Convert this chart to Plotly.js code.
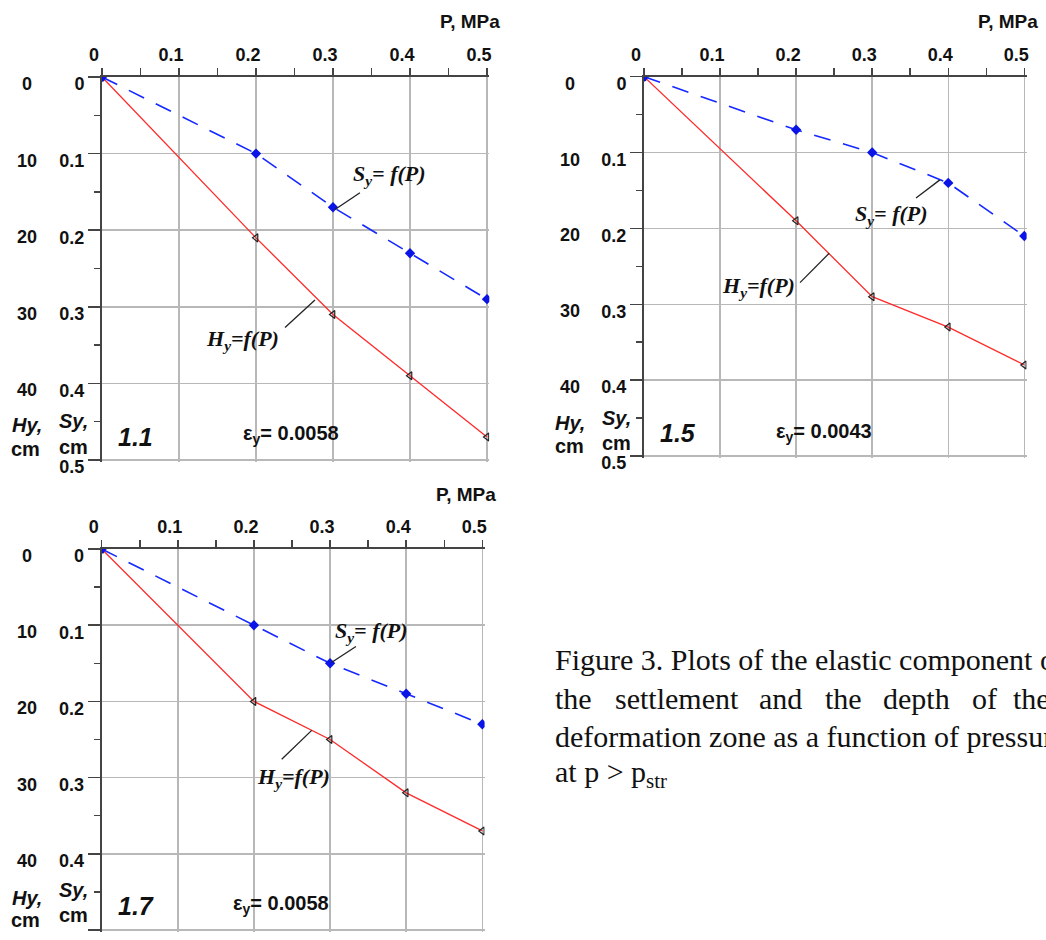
<!DOCTYPE html>
<html>
<head>
<meta charset="utf-8">
<script src="https://cdn.plot.ly/plotly-3.0.1.min.js"></script>
<style>
  html, body { margin: 0; padding: 0; background: #fff; }
  #chart { width: 1046px; height: 940px; }
</style>
</head>
<body>
<div id="chart"></div>
<script>
// pressure steps, MPa
const pressure = [0, 0.2, 0.3, 0.4, 0.5];

// settlement Sy (blue, dashed) and deformation depth Hy (red)
const sy11 = [0, 0.10, 0.17, 0.23, 0.29];
const hy11 = [0, 0.21, 0.31, 0.39, 0.47];
const sy15 = [0, 0.07, 0.10, 0.14, 0.21];
const hy15 = [0, 0.19, 0.29, 0.33, 0.38];
const sy17 = [0, 0.10, 0.15, 0.19, 0.23];
const hy17 = [0, 0.20, 0.25, 0.32, 0.37];

const panelNames = ['1.1', '1.5', '1.7'];
const strainLabels = ['0.0058', '0.0043', '0.0058'];
const hyTicks = [0, 10, 20, 30, 40];   // Hy axis, cm (10 cm <-> 0.1 on Sy axis)

const W = 1046, H = 940;
const sans = 'Liberation Sans, Arial, sans-serif';
const serif = 'Liberation Serif, Times New Roman, serif';

// pixel boxes of the three plot areas: [left, right, top, bottom] (range 0..0.503)
const boxes = [
    [102, 489.3, 77, 462.3],
    [644, 1026.6, 76.7, 458.3],
    [101.7, 484.6, 549, 932.3],
];

function xAxis(box, anchor) {
    return {
        domain: [box[0] / W, box[1] / W],
        anchor: anchor,
        side: 'top',
        range: [0, 0.503],
        tick0: 0, dtick: 0.1,
        ticks: 'outside', ticklen: 7, tickwidth: 1.5, tickcolor: '#444',
        minor: { dtick: 0.05, ticks: 'outside', ticklen: 7, tickwidth: 1.5, tickcolor: '#444', showgrid: false },
        showline: true, linecolor: '#444', linewidth: 2,
        showgrid: true, gridcolor: '#b8b8b8', gridwidth: 1.5,
        zeroline: false,
        ticklabelshift: -8,
        tickfont: { family: sans, size: 18, weight: 'bold', color: '#111' },
        fixedrange: true,
    };
}

function yAxis(box, anchor) {
    return {
        domain: [1 - box[3] / H, 1 - box[2] / H],
        anchor: anchor,
        range: [0.503, 0],
        tick0: 0, dtick: 0.1,
        ticks: 'outside', ticklen: 12, tickwidth: 1.5, tickcolor: '#444',
        minor: { dtick: 0.05, ticks: 'outside', ticklen: 6, tickwidth: 1.5, tickcolor: '#444', showgrid: false },
        showline: true, linecolor: '#444', linewidth: 2,
        showgrid: true, gridcolor: '#b8b8b8', gridwidth: 1.5,
        zeroline: false,
        ticklabelshift: -7,
        ticklabelstandoff: 0,
        tickfont: { family: sans, size: 18, weight: 'bold', color: '#111' },
        fixedrange: true,
    };
}

function syTrace(y, xa, ya) {
    return {
        x: pressure, y: y, xaxis: xa, yaxis: ya,
        type: 'scatter', mode: 'lines+markers',
        line: { color: '#1428ff', width: 1.6, dash: '17px,13px' },
        marker: { symbol: 'diamond', size: 8, color: '#0a14e6' },
        hoverinfo: 'skip',
    };
}

function hyTrace(y, xa, ya) {
    return {
        x: pressure, y: y, xaxis: xa, yaxis: ya,
        type: 'scatter', mode: 'lines+markers',
        line: { color: '#ff2a2a', width: 1.3 },
        marker: { symbol: 'triangle-left-open', size: 7, color: '#222', line: { width: 1.2 } },
        hoverinfo: 'skip',
    };
}

const data = [
    hyTrace(hy11, 'x', 'y'), syTrace(sy11, 'x', 'y'),
    hyTrace(hy15, 'x2', 'y2'), syTrace(sy15, 'x2', 'y2'),
    hyTrace(hy17, 'x3', 'y3'), syTrace(sy17, 'x3', 'y3'),
];

const annotations = [];
const shapes = [];

function px(text, x, y, size, opts) {
    annotations.push(Object.assign({
        text: text, xref: 'paper', yref: 'paper',
        x: x / W, y: 1 - y / H, showarrow: false,
        xanchor: 'center', yanchor: 'middle',
        font: { family: sans, size: size, color: '#111', weight: 'bold' },
    }, opts || {}));
}

function inData(text, xa, ya, x, y, font) {
    annotations.push({
        text: text, xref: xa, yref: ya, x: x, y: y, showarrow: false,
        xanchor: 'center', yanchor: 'middle', font: font,
    });
}

function leader(xa, ya, x0, y0, x1, y1) {
    shapes.push({ type: 'line', xref: xa, yref: ya, x0: x0, y0: y0, x1: x1, y1: y1,
        line: { color: '#222', width: 1.3 } });
}

// per-panel labels
const panels = [
    { xa: 'x', ya: 'y', hyX: 27, axisTitle: [470, 22],
      hyLbl: [27, 425], hyCm: [25, 449], syLbl: [73, 421], syCm: [73, 447],
      name: [0.044, 0.47], eps: [0.246, 0.467],
      syText: [0.373, 0.128], syLine: [0.335, 0.151, 0.3026, 0.173],
      hyText: [0.182, 0.343], hyLine: [0.2377, 0.327, 0.2766, 0.291] },
    { xa: 'x2', ya: 'y2', hyX: 570, axisTitle: [1008, 22],
      hyLbl: [570, 423], hyCm: [569, 446], syLbl: [616, 418], syCm: [616, 443],
      name: [0.0443, 0.47], eps: [0.236, 0.469],
      syText: [0.3256, 0.182], syLine: [0.3576, 0.160, 0.389, 0.136],
      hyText: [0.150, 0.2775], hyLine: [0.2051, 0.2714, 0.2435, 0.2327] },
    { xa: 'x3', ya: 'y3', hyX: 27, axisTitle: [466, 494],
      hyLbl: [27, 898], hyCm: [25, 920], syLbl: [73, 890], syCm: [73, 915],
      name: [0.045, 0.469], eps: [0.2355, 0.467],
      syText: [0.355, 0.1085], syLine: [0.334, 0.128, 0.3018, 0.149],
      hyText: [0.2517, 0.301], hyLine: [0.2365, 0.276, 0.2759, 0.238] },
];

const curveFont = { family: serif, size: 22, color: '#111', weight: 'bold', style: 'italic' };

panels.forEach((p, i) => {
    px('P, MPa', p.axisTitle[0], p.axisTitle[1], 19);
    hyTicks.forEach(v => {
        annotations.push({
            text: String(v), xref: 'paper', yref: p.ya, x: p.hyX / W, y: v / 100,
            yshift: -7, showarrow: false, xanchor: 'center', yanchor: 'middle',
            font: { family: sans, size: 18, color: '#111', weight: 'bold' },
        });
    });
    px('<i>Hy,</i>', p.hyLbl[0], p.hyLbl[1], 20);
    px('cm', p.hyCm[0], p.hyCm[1], 20);
    px('<i>Sy,</i>', p.syLbl[0], p.syLbl[1], 20);
    px('cm', p.syCm[0], p.syCm[1], 20);
    inData('<i>' + panelNames[i] + '</i>', p.xa, p.ya, p.name[0], p.name[1],
        { family: sans, size: 25, color: '#111', weight: 'bold' });
    inData('ε<sub>y</sub>= ' + strainLabels[i], p.xa, p.ya, p.eps[0], p.eps[1],
        { family: sans, size: 20, color: '#111', weight: 'bold' });
    inData('S<sub>y</sub>= f(P)', p.xa, p.ya, p.syText[0], p.syText[1], curveFont);
    inData('H<sub>y</sub>=f(P)', p.xa, p.ya, p.hyText[0], p.hyText[1], curveFont);
    leader(p.xa, p.ya, ...p.syLine);
    leader(p.xa, p.ya, ...p.hyLine);
});

// caption
const capFont = { family: serif, size: 30, color: '#111' };
function cap(text, x, y) {
    annotations.push({ text: text, xref: 'paper', yref: 'paper', x: x / W, y: 1 - y / H,
        showarrow: false, xanchor: 'left', yanchor: 'middle', font: capFont });
}
cap('Figure 3. Plots of the elastic component of', 553, 659);
const line2 = ['the', 'settlement', 'and', 'the', 'depth', 'of', 'the'];
const line2x = [553, 613, 757, 823, 881, 970, 1011];
line2.forEach((w, i) => cap(w, line2x[i], 698));
cap('deformation zone as a function of pressure', 553, 736);
cap('at p &gt; p<sub>str</sub>', 553, 774);

const layout = {
    width: W, height: H,
    margin: { l: 0, r: 0, t: 0, b: 0 },
    paper_bgcolor: '#fff', plot_bgcolor: 'rgba(0,0,0,0)',
    showlegend: false,
    xaxis: xAxis(boxes[0], 'y'), yaxis: yAxis(boxes[0], 'x'),
    xaxis2: xAxis(boxes[1], 'y2'), yaxis2: yAxis(boxes[1], 'x2'),
    xaxis3: xAxis(boxes[2], 'y3'), yaxis3: yAxis(boxes[2], 'x3'),
    annotations: annotations,
    shapes: shapes,
};

Plotly.newPlot('chart', data, layout, { staticPlot: true });
</script>
</body>
</html>
